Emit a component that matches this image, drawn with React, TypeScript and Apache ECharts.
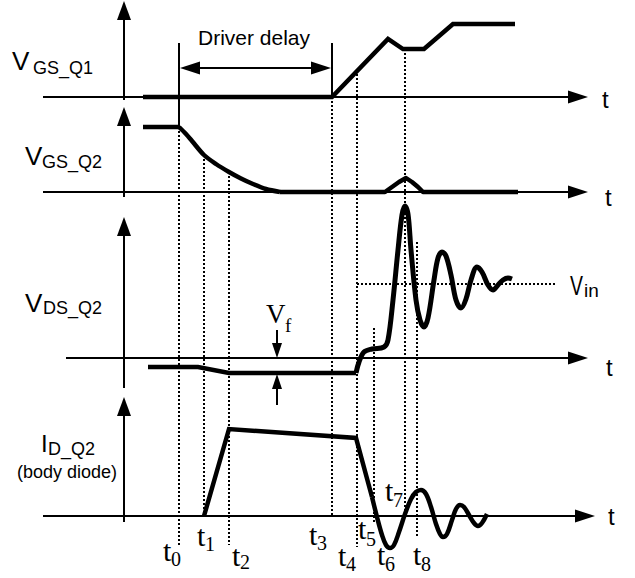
import React, { useEffect, useRef } from "react";
import * as echarts from "echarts";

// ---------- Waveform data (diagram units: time → x, level → y, shared by all panels) ----------
const vgsQ1 = [[143, 97], [332, 97], [388, 39], [403, 49], [424, 49], [453, 24], [515, 24]];
const vgsQ2Flat = [[143, 127], [179, 127]];
const vgsQ2Fall = [[179, 127], [186, 134], [192, 141], [204, 155], [216, 164], [229, 172], [241, 178.5], [253, 184], [266, 189], [280, 192]];
const vgsQ2Rest = [[280, 192], [385, 192], [392, 187], [399, 182], [406, 178], [412, 182], [418, 187], [423, 192], [518, 192]];
const vdsFlat = [[148, 367], [198, 367], [229, 373], [356, 373]];
const vdsRing = [[356, 373], [359, 362], [364, 352], [372, 349], [384, 347], [388, 340], [393, 300], [398, 250], [402, 215], [405, 206], [408, 214], [411, 250], [416, 300], [420, 320], [424, 327], [428, 318], [434, 280], [438, 258], [442, 252], [446, 256], [451, 275], [456, 300], [461, 308], [466, 299], [471, 280], [477, 267], [482, 272], [488, 285], [493, 290], [498, 285], [503, 280], [508, 278], [512, 279]];
const idRamp = [[204, 516], [229, 429], [356, 438], [372, 497]];
const idRing = [[372, 497], [377, 517], [382, 535], [386, 545], [390, 548], [394, 545], [399, 532], [405, 514], [411, 499], [416, 492], [421, 490], [426, 494], [431, 507], [436, 524], [440, 534], [443, 537], [447, 534], [452, 520], [456, 509], [460, 505], [464, 507], [469, 515], [474, 523], [478, 526], [482, 523], [487, 514]];

// Time axes (baseline level, start, arrow tip) and value axes (top tip, bottom)
const timeAxisLevel = [97, 192, 358, 516];
const timeAxisStart = [43, 43, 66, 43];
const timeAxisEnd = [588, 588, 588, 595];
const valueAxisX = 124;
const valueAxisTop = [1, 107, 217, 397];
const valueAxisBottom = [100, 197, 388, 522];

// Event guide lines (dotted)
const guideTime = [179, 204, 229, 332, 357, 374, 405, 417];
const guideFrom = [127, 155, 172, 97, 70, 328, 53, 242];
const guideTo = [547, 516, 545, 517, 547, 522, 510, 537];
const vinLevel = 284;
const vinFrom = 357;
const vinTo = 557;

// Driver delay span and Vf marker
const delayStart = 179;
const delayEnd = 332;
const delayLevel = 68;
const vfTime = 277;

// Labels
const tSubs = ["0", "1", "2", "3", "4", "5", "6", "7", "8"];
const panelMain = ["V", "V", "V", "I"];
const panelSub = ["GS_Q1", "GS_Q2", "DS_Q2", "D_Q2"];

const SANS = "'Liberation Sans', Arial, sans-serif";
const SERIF = "'Liberation Serif', 'Times New Roman', serif";

function lineSeries(data: number[][], width: number, opts: any = {}) {
  return {
    type: "line",
    data,
    symbol: "none",
    showSymbol: false,
    silent: true,
    clip: false,
    smooth: opts.smooth ?? false,
    z: opts.z ?? 5,
    lineStyle: {
      color: "#000",
      width,
      type: opts.dash ?? "solid",
      cap: opts.cap ?? "butt",
      join: opts.join ?? "miter",
    },
  };
}

function txt(text: string, x: number, baseline: number, size: number, family: string, scaleX = 1) {
  const y = baseline - 0.342 * size;
  return {
    type: "text",
    x,
    y,
    scaleX,
    silent: true,
    z: 100,
    style: {
      text,
      fill: "#000",
      fontSize: size,
      fontFamily: family,
      align: "left",
      verticalAlign: "middle",
      textAlign: "left",
      textVerticalAlign: "middle",
    },
  };
}

function tri(points: number[][]) {
  return { type: "polygon", silent: true, z: 90, shape: { points }, style: { fill: "#000" } };
}
const arrowUp = (x: number, tip: number, w = 14, h = 19) => tri([[x, tip], [x + w / 2, tip + h], [x - w / 2, tip + h]]);
const arrowDown = (x: number, tip: number, w = 10, h = 15) => tri([[x, tip], [x + w / 2, tip - h], [x - w / 2, tip - h]]);
const arrowRight = (tip: number, y: number, w = 20, h = 13) => tri([[tip, y], [tip - w, y - h / 2], [tip - w, y + h / 2]]);
const arrowLeft = (tip: number, y: number, w = 20, h = 13) => tri([[tip, y], [tip + w, y - h / 2], [tip + w, y + h / 2]]);

export default function App() {
  const ref = useRef<HTMLDivElement>(null);
  useEffect(() => {
    if (!ref.current) return;
    const chart = echarts.init(ref.current, undefined, { renderer: "svg" });

    const series: any[] = [];
    timeAxisLevel.forEach((lv, i) => {
      series.push(lineSeries([[timeAxisStart[i], lv], [timeAxisEnd[i] - 10, lv]], 2));
    });
    valueAxisTop.forEach((top, i) => {
      series.push(lineSeries([[valueAxisX, top + 10], [valueAxisX, valueAxisBottom[i]]], 2));
    });
    guideTime.forEach((t, i) => {
      series.push(lineSeries([[t, guideFrom[i]], [t, guideTo[i]]], 2, { dash: [2, 2], z: 3 }));
    });
    series.push(lineSeries([[vinFrom, vinLevel], [vinTo, vinLevel]], 2, { dash: [2, 2], z: 3 }));
    series.push(lineSeries([[delayStart, 43], [delayStart, 127]], 2));
    series.push(lineSeries([[delayEnd, 43], [delayEnd, 97]], 2));
    series.push(lineSeries([[delayStart + 10, delayLevel], [delayEnd - 10, delayLevel]], 2));
    series.push(lineSeries([[vfTime, 330], [vfTime, 348]], 2));
    series.push(lineSeries([[vfTime, 384], [vfTime, 405]], 2));
    series.push(lineSeries(vgsQ1, 4.5, { z: 10 }));
    series.push(lineSeries(vgsQ2Flat, 4.5, { z: 10 }));
    series.push(lineSeries(vgsQ2Fall, 4.5, { z: 10, smooth: 0.3, join: "round" }));
    series.push(lineSeries(vgsQ2Rest, 4.5, { z: 10, join: "round" }));
    series.push(lineSeries(vdsFlat, 4.5, { z: 10 }));
    series.push(lineSeries(vdsRing, 5, { z: 10, smooth: 0.35, join: "round" }));
    series.push(lineSeries(idRamp, 4.5, { z: 10 }));
    series.push(lineSeries(idRing, 4.5, { z: 10, smooth: 0.35, join: "round" }));

    const elements: any[] = [];
    timeAxisLevel.forEach((lv, i) => elements.push(arrowRight(timeAxisEnd[i], lv)));
    valueAxisTop.forEach((top) => elements.push(arrowUp(valueAxisX, top)));
    elements.push(arrowLeft(delayStart + 1, delayLevel));
    elements.push(arrowRight(delayEnd - 1, delayLevel));
    elements.push(arrowDown(vfTime, 358));
    elements.push(arrowUp(vfTime, 374, 10, 15));

    const mainPos = [[12, 70, 26], [25, 165, 26], [25, 312, 26], [41, 452, 24]];
    const subPos = [[33, 74], [42, 168], [43, 314], [48, 455]];
    panelMain.forEach((m, i) => {
      elements.push(txt(m, mainPos[i][0], mainPos[i][1], mainPos[i][2], SANS));
      elements.push(txt(panelSub[i], subPos[i][0], subPos[i][1], 18, SANS));
    });
    elements.push(txt("(body diode)", 17, 478, 18, SANS));
    elements.push(txt("Driver delay", 198, 45, 21, SANS));
    const tAxisPos = [[602, 108], [605, 206], [606, 376], [608, 525]];
    tAxisPos.forEach((p) => elements.push(txt("t", p[0], p[1], 24, SANS)));
    elements.push(txt("V", 570, 295, 27, SANS, 0.72));
    elements.push(txt("in", 584, 297, 19, SANS));
    elements.push(txt("V", 266, 323, 27, SERIF));
    elements.push(txt("f", 285, 332, 19, SERIF));

    const tPos = [
      [163, 561, 566], [197, 546, 551], [232, 566, 569], [309, 545, 550], [338, 566, 571],
      [358, 539, 546], [377, 565, 571], [385, 501, 507], [413, 565, 571],
    ];
    tSubs.forEach((s, i) => {
      const p = tPos[i];
      elements.push(txt("t", p[0], p[1], 30, SERIF));
      elements.push(txt(s, p[0] + 8, p[2], 20, SERIF));
    });

    chart.setOption({
      animation: false,
      backgroundColor: "#fff",
      grid: { left: 0, right: 0, top: 0, bottom: 0 },
      xAxis: { type: "value", min: 0, max: 635, show: false },
      yAxis: { type: "value", min: 0, max: 578, inverse: true, show: false },
      series,
      graphic: { elements },
    });
    return () => chart.dispose();
  }, []);
  return (
    <div
      ref={ref}
      style={{ position: "absolute", left: 0, top: 0, width: 635, height: 578, background: "#fff" }}
    />
  );
}
